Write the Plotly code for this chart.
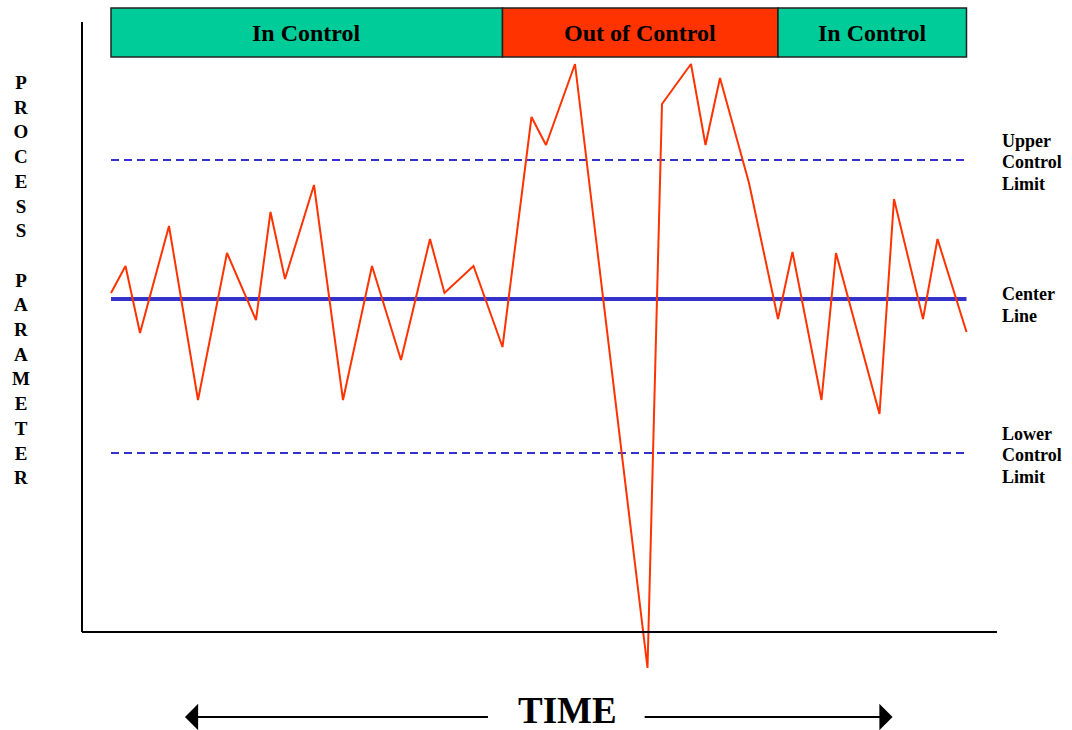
import plotly.graph_objects as go

# time index of each vertex of the process trace, and its value
TIME_IDX = [0, 1, 2, 4, 6, 8, 10, 11, 12, 14, 16, 18, 20, 22, 23, 25, 27,
            29, 30, 32, 37, 38, 40, 41, 42, 44, 46,
            47, 49, 50, 53, 54, 56, 57, 59]
VALUES = [33.9, 36.6, 29.9, 40.6, 23.2, 37.9, 31.2, 42.0, 35.3, 44.7, 23.2, 36.6,
          27.2, 39.3, 33.9, 36.6, 28.5,
          51.5, 48.7, 56.8, -3.6, 52.8, 56.8, 48.7, 55.4, 44.9, 31.3,
          38.0, 23.2, 37.9, 21.8, 43.3, 31.3, 39.3, 30.0]

CENTER_LINE = 33.3
UPPER_LIMIT = 47.2
LOWER_LIMIT = 17.9
LIMIT_SPAN = [0, 59]

PHASE_LABELS = ["In Control", "Out of Control", "In Control"]
PHASE_START = [0, 27, 46]
PHASE_END = [27, 46, 59]
PHASE_COLORS = ["#00CC99", "#FF3300", "#00CC99"]

LIMIT_LABELS = [["Upper", "Control", "Limit"], ["Center", "Line"], ["Lower", "Control", "Limit"]]
LIMIT_LEVELS = [UPPER_LIMIT, CENTER_LINE, LOWER_LIMIT]

AXIS_LETTERS = list("PROCESS") + [""] + list("PARAMETER")

RED = "#FF3300"
BLUE = "#3333CC"
SERIF = "Liberation Serif"

fig = go.Figure()

for level in (UPPER_LIMIT, LOWER_LIMIT):
    fig.add_trace(go.Scatter(
        x=LIMIT_SPAN, y=[level] * 2, mode="lines",
        line=dict(color=BLUE, width=1.8, dash="8px,5px"), hoverinfo="skip",
    ))
fig.add_trace(go.Scatter(
    x=LIMIT_SPAN, y=[CENTER_LINE] * 2, mode="lines",
    line=dict(color=BLUE, width=4), hoverinfo="skip",
))
fig.add_trace(go.Scatter(
    x=TIME_IDX, y=VALUES, mode="lines",
    line=dict(color=RED, width=2), name="Process",
))

# axis lines (drawn as shapes so the trace can run past them)
fig.add_shape(type="line", x0=-2, x1=-2, y0=0, y1=61,
              line=dict(color="black", width=2))
fig.add_shape(type="line", x0=-2, x1=61.1, y0=0, y1=0,
              line=dict(color="black", width=2))

# phase banner
for label, x0, x1, col in zip(PHASE_LABELS, PHASE_START, PHASE_END, PHASE_COLORS):
    fig.add_shape(type="rect", x0=x0, x1=x1, y0=57.5, y1=62.4,
                  fillcolor=col, line=dict(color="#222222", width=1.5), layer="above")
    fig.add_annotation(x=(x0 + x1) / 2, y=59.95, text=label, showarrow=False,
                       font=dict(family=SERIF, size=24, color="black", weight="bold"))

# limit labels, one annotation per text row
label_font = dict(family=SERIF, size=18, color="black", weight="bold")
for rows, level in zip(LIMIT_LABELS, LIMIT_LEVELS):
    n = len(rows)
    offset = 6 if n == 2 else 2
    for k, row in enumerate(rows):
        fig.add_annotation(x=61.3, y=level, text=row, showarrow=False,
                           xanchor="left", font=label_font,
                           yshift=-((k - (n - 1) / 2) * 21.5 + offset))

fig.add_annotation(
    xref="paper", yref="paper", x=21 / 1072, y=1 - 280 / 730,
    xanchor="center", yanchor="middle",
    text="<br>".join(AXIS_LETTERS), showarrow=False,
    font=dict(family=SERIF, size=19, color="black", weight="bold"),
)

fig.add_annotation(x=31.45, y=-7.8, text="TIME", showarrow=False,
                   font=dict(family=SERIF, size=37, color="black", weight="bold"))
fig.add_annotation(x=5.1, y=-8.5, ax=26.1, ay=-8.5, axref="x", ayref="y",
                   text="", showarrow=True, arrowhead=1, arrowsize=2.2,
                   arrowwidth=2, arrowcolor="black")
fig.add_annotation(x=53.9, y=-8.5, ax=36.7, ay=-8.5, axref="x", ayref="y",
                   text="", showarrow=True, arrowhead=1, arrowsize=2.2,
                   arrowwidth=2, arrowcolor="black")

fig.update_layout(
    width=1072, height=730,
    margin=dict(l=0, r=0, t=0, b=0),
    plot_bgcolor="white", paper_bgcolor="white",
    showlegend=False,
    xaxis=dict(range=[-7.655, 66.276], visible=False, fixedrange=True),
    yaxis=dict(range=[-9.8, 63.2], visible=False, fixedrange=True),
)

fig.write_html(
    "out.html",
    config={"displayModeBar": False},
    post_script="document.body.style.margin='0';document.body.style.overflow='hidden';",
)
